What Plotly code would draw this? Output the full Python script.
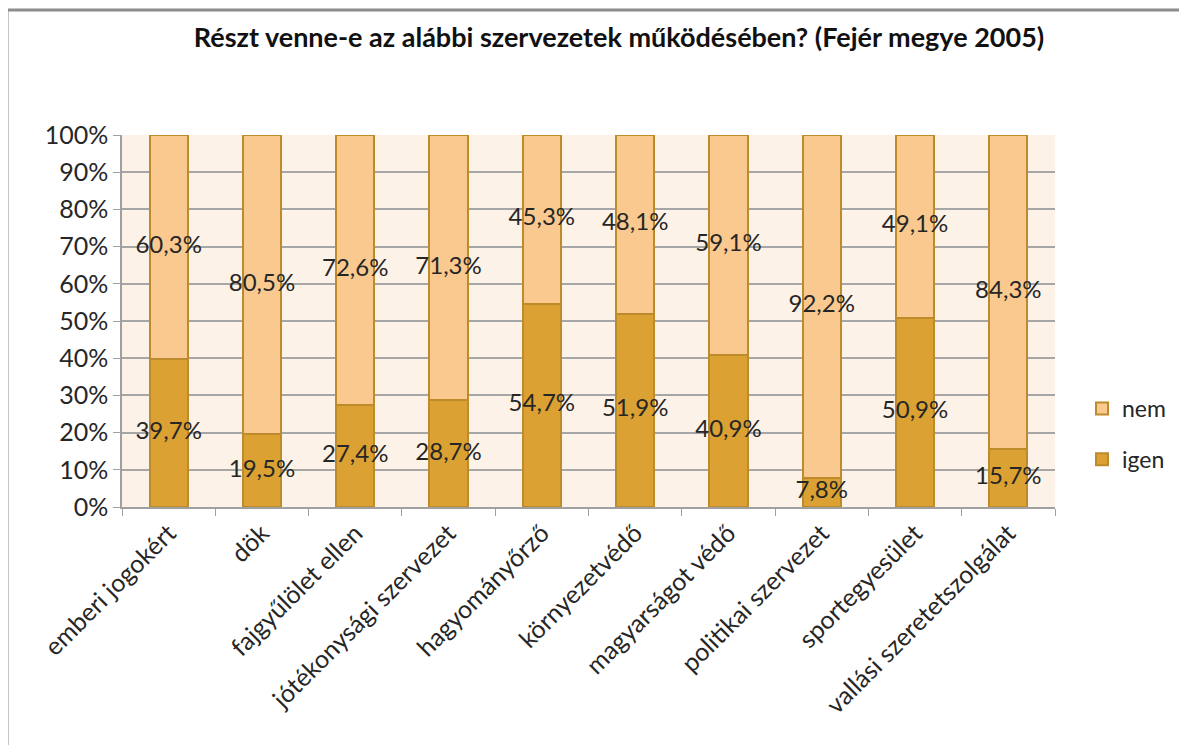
import plotly.graph_objects as go

categories = ["emberi jogokért", "dök", "fajgyűlölet ellen", "jótékonysági szervezet",
              "hagyományőrző", "környezetvédő", "magyarságot védő", "politikai szervezet",
              "sportegyesület", "vallási szeretetszolgálat"]
igen = [39.7, 19.5, 27.4, 28.7, 54.7, 51.9, 40.9, 7.8, 50.9, 15.7]
nem = [60.3, 80.5, 72.6, 71.3, 45.3, 48.1, 59.1, 92.2, 49.1, 84.3]
y_tickvals = [0, 10, 20, 30, 40, 50, 60, 70, 80, 90, 100]
y_ticktext = ["0%", "10%", "20%", "30%", "40%", "50%", "60%", "70%", "80%", "90%", "100%"]
title = "Részt venne-e az alábbi szervezetek működésében? (Fejér megye 2005)"

FONT = "Lato, 'Open Sans', sans-serif"
C_IGEN = "#DBA133"
C_NEM = "#FAC98F"
C_EDGE = "#BD8A2C"
TXT = "#262626"

def fmt(v):
    return f"{v:.1f}".replace(".", ",") + "%"

fig = go.Figure()
fig.add_trace(go.Bar(x=categories, y=igen, name="igen", marker=dict(color=C_IGEN, line=dict(color=C_EDGE, width=2)),
                     legendgroup="igen", legendrank=2))
fig.add_trace(go.Bar(x=categories, y=nem, name="nem", marker=dict(color=C_NEM, line=dict(color=C_EDGE, width=2)),
                     legendgroup="nem", legendrank=1))

# labels at segment midpoints
fig.add_trace(go.Scatter(x=categories, y=[v / 2 for v in igen], mode="text",
                         text=[fmt(v) for v in igen], textfont=dict(size=24, color=TXT, family=FONT),
                         showlegend=False, hoverinfo="skip"))
fig.add_trace(go.Scatter(x=categories, y=[a + b / 2 for a, b in zip(igen, nem)], mode="text",
                         text=[fmt(v) for v in nem], textfont=dict(size=24, color=TXT, family=FONT),
                         showlegend=False, hoverinfo="skip"))

OFF = 8  # default body margin of the html page
W, H = 1187 - 2 * OFF, 753 - 2 * OFF
# target pixel positions in the window
px_l, px_r, px_t, px_b = 122, 1055, 135, 507
L, T = px_l - OFF, px_t - OFF
R = W - (px_r - OFF)
B = H - (px_b - OFF)
pw, ph = px_r - px_l, px_b - px_t
bx = (7 - px_l) / pw
by = 1 + (px_t - 10) / ph

fig.update_layout(
    width=W, height=H,
    margin=dict(l=L, r=R, t=T, b=B, autoexpand=False),
    barmode="stack", bargap=0.59,
    paper_bgcolor="white", plot_bgcolor="#FDF2E7",
    font=dict(family=FONT, size=24, color=TXT),
    title=dict(text=f"<b>{title}</b>", x=(619 - OFF) / W, xanchor="center", xref="container",
               y=1 - (38 - OFF) / H, yanchor="middle", yref="container",
               font=dict(size=27, family=FONT, color="#111111")),
    legend=dict(x=(1082 - px_l) / pw, xanchor="left", y=(px_b - 434) / ph, yanchor="middle",
                traceorder="grouped", tracegroupgap=18,
                font=dict(size=23, family=FONT, color=TXT), bgcolor="rgba(0,0,0,0)"),
    xaxis=dict(tickangle=-45, showgrid=False, showline=True, linecolor="#A0A0A0", linewidth=1.5,
               ticks="outside", tickson="boundaries", ticklen=7, tickcolor="#A0A0A0",
               tickfont=dict(size=25, family=FONT, color=TXT), automargin=False),
    yaxis=dict(range=[0, 100], tickvals=y_tickvals, ticktext=y_ticktext, showgrid=True,
               gridcolor="#A6A6A6", gridwidth=1.5, showline=True, linecolor="#A0A0A0", linewidth=1.5,
               ticks="outside", ticklen=7, tickcolor="#A0A0A0", zeroline=False,
               tickfont=dict(size=25, family=FONT, color=TXT), automargin=False),
    shapes=[
        dict(type="line", xref="paper", yref="paper", x0=bx, x1=bx, y0=by, y1=-2, line=dict(color="#8C8C8C", width=3)),
        dict(type="line", xref="paper", yref="paper", x0=bx, x1=2, y0=by, y1=by, line=dict(color="#8C8C8C", width=3)),
    ],
)

fig.write_html("out.html")
